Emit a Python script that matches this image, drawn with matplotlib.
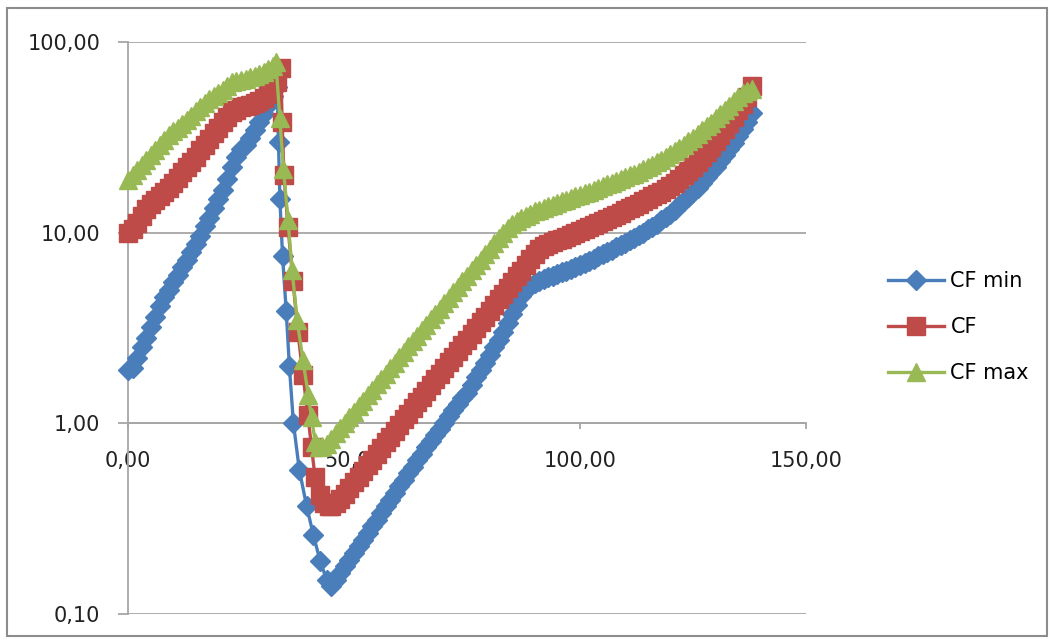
import matplotlib
matplotlib.use("Agg")
import matplotlib.pyplot as plt
from matplotlib.patches import Rectangle
from matplotlib.ticker import FixedLocator, FuncFormatter, NullLocator

# CF min
cf_min_x = list(range(0, 34)) + [33.3, 33.6, 34.2, 35.0, 35.7, 36.6, 37.9, 39.5, 41.0, 42.5, 44.0] + list(range(45, 139))
cf_min = [1.9, 1.95, 2.2, 2.5, 2.8, 3.2, 3.6, 4.1, 4.6, 5.0,
          5.5, 6.0, 6.6, 7.2, 7.9, 8.7, 9.6, 10.8, 12.0, 13.4,
          15.0, 16.8, 19.2, 22.0, 25.0, 27.5, 29.0, 31.5, 34.5, 38.0,
          42.0, 46.5, 52.0, 58.0,
          30.0, 15.0, 7.5, 3.9, 2.0, 1.0, 0.57, 0.37, 0.26, 0.19, 0.15,
          0.14, 0.151, 0.164, 0.178, 0.193, 0.209, 0.226, 0.245, 0.266, 0.288,
          0.313, 0.339, 0.367, 0.398, 0.432, 0.468, 0.506, 0.547, 0.592, 0.640,
          0.692, 0.748, 0.809, 0.871, 0.938, 1.01, 1.09, 1.17, 1.26, 1.35,
          1.45, 1.58, 1.74, 1.91, 2.08, 2.28, 2.50, 2.74, 3.00, 3.35,
          3.74, 4.17, 4.66, 5.01, 5.27, 5.47, 5.58, 5.70, 5.82, 5.94,
          6.07, 6.19, 6.32, 6.47, 6.62, 6.78, 6.95, 7.13, 7.31, 7.50,
          7.71, 7.93, 8.15, 8.38, 8.61, 8.85, 9.12, 9.40, 9.70, 10.0,
          10.4, 10.7, 11.1, 11.6, 12.1, 12.6, 13.2, 13.9, 14.6, 15.4,
          16.3, 17.2, 18.3, 19.5, 20.7, 22.2, 23.8, 25.5, 27.5, 29.6,
          32.1, 34.8, 38.0, 42.2]

# CF
cf_x = list(range(0, 34)) + [33.8, 34.1, 34.5, 35.4, 36.5, 37.6, 38.7, 39.8, 40.6, 41.4, 42.4, 43.4, 44.4] + list(range(45, 139))
cf = [10.0, 10.4, 11.3, 12.2, 13.3, 14.2, 14.8, 15.5, 16.3, 17.2,
      18.2, 19.4, 20.7, 22.0, 23.4, 25.0, 27.0, 29.0, 31.0, 33.3,
      35.5, 38.0, 40.5, 42.7, 44.2, 45.5, 46.3, 47.0, 48.0, 49.0,
      51.0, 53.5, 56.0, 62.0,
      73.0, 38.0, 20.0, 10.7, 5.6, 3.0, 1.8, 1.1, 0.75, 0.52, 0.42, 0.38, 0.37,
      0.37, 0.38, 0.40, 0.427, 0.457, 0.490, 0.525, 0.562, 0.603, 0.646,
      0.692, 0.741, 0.794, 0.851, 0.912, 0.977, 1.05, 1.12, 1.20, 1.29,
      1.38, 1.48, 1.58, 1.70, 1.82, 1.95, 2.09, 2.24, 2.40, 2.57,
      2.75, 2.95, 3.16, 3.39, 3.63, 3.89, 4.17, 4.47, 4.79, 5.13,
      5.50, 5.89, 6.31, 6.76, 7.24, 7.76, 8.22, 8.47, 8.69, 8.89,
      9.10, 9.31, 9.53, 9.75, 9.98, 10.2, 10.5, 10.7, 11.0, 11.2,
      11.5, 11.8, 12.1, 12.4, 12.7, 13.1, 13.4, 13.8, 14.2, 14.6,
      15.0, 15.5, 16.0, 16.4, 17.0, 17.6, 18.3, 19.1, 20.0, 21.0,
      22.1, 23.4, 24.9, 26.5, 28.3, 30.3, 32.4, 34.8, 37.5, 40.5,
      43.8, 47.4, 51.5, 59.0]

# CF max
cf_max_x = list(range(0, 32)) + [32.0, 32.7, 33.6, 34.4, 35.4, 36.3, 37.4, 38.7, 39.9, 40.6, 41.4, 42.3] + list(range(43, 139))
cf_max = [19.0, 20.0, 21.3, 22.6, 24.0, 25.7, 27.3, 29.0, 30.7, 32.4,
          34.0, 35.5, 37.2, 39.0, 41.0, 43.3, 45.7, 48.0, 50.1, 52.1,
          54.0, 56.2, 59.0, 61.5, 62.5, 63.0, 64.0, 65.5, 66.5, 68.0,
          69.5, 72.0,
          75.0, 79.0, 40.0, 21.5, 11.6, 6.4, 3.5, 2.15, 1.4, 1.08, 0.8, 0.75,
          0.76, 0.78, 0.828, 0.885, 0.944, 1.01, 1.08, 1.15, 1.23, 1.31,
          1.40, 1.50, 1.60, 1.71, 1.82, 1.95, 2.08, 2.22, 2.37, 2.53,
          2.70, 2.88, 3.08, 3.29, 3.51, 3.75, 4.00, 4.28, 4.56, 4.88,
          5.20, 5.56, 5.93, 6.34, 6.76, 7.23, 7.71, 8.24, 8.79, 9.40,
          10.0, 10.6, 11.1, 11.5, 11.9, 12.3, 12.6, 13.0, 13.2, 13.5,
          13.8, 14.0, 14.3, 14.6, 14.9, 15.2, 15.5, 15.8, 16.1, 16.4,
          16.8, 17.1, 17.5, 17.9, 18.2, 18.6, 19.1, 19.5, 20.0, 20.4,
          20.9, 21.5, 22.1, 22.7, 23.4, 24.1, 24.9, 25.8, 26.7, 27.8,
          28.9, 30.1, 31.5, 32.9, 34.4, 36.1, 37.8, 39.7, 41.8, 44.0,
          46.3, 48.9, 51.5, 54.3, 55.5, 56.5]

x_ticks = [0, 50, 100, 150]
y_ticks = [0.1, 1, 10, 100]

for xs, ys in [(cf_min_x, cf_min), (cf_x, cf), (cf_max_x, cf_max)]:
    assert len(xs) == len(ys), (len(xs), len(ys))

grey = "#a6a6a6"
plt.rcParams["font.family"] = "DejaVu Sans"

fig = plt.figure(figsize=(10.5, 6.4), dpi=100)
ax = fig.add_axes([128 / 1050, 1 - 614 / 640, 678 / 1050, 572 / 640])

# chart border like the Excel chart area
fig.patches.append(Rectangle((7 / 1050, 1 - 636 / 640), 1040 / 1050, 628 / 640,
                             transform=fig.transFigure, fill=False,
                             edgecolor="#8c8c8c", lw=1.5))

ax.plot(cf_min_x, cf_min, color="#4a7ebb", lw=2.4, marker="D", ms=10.5,
        mec="#4a7ebb", label="CF min", clip_on=False, zorder=3)
ax.plot(cf_x, cf, color="#be4b48", lw=2.4, marker="s", ms=12.5,
        mec="#be4b48", label="CF", clip_on=False, zorder=4)
ax.plot(cf_max_x, cf_max, color="#98b954", lw=2.4, marker="^", ms=13,
        mec="#98b954", label="CF max", clip_on=False, zorder=5)

ax.set_yscale("log")
ax.set_ylim(0.1, 100)
ax.set_xlim(0, 150)

ax.yaxis.set_major_locator(FixedLocator(y_ticks))
ax.yaxis.set_minor_locator(NullLocator())
ax.xaxis.set_major_locator(FixedLocator(x_ticks))
fmt = FuncFormatter(lambda v, p: f"{v:.2f}".replace(".", ","))
ax.yaxis.set_major_formatter(fmt)
ax.xaxis.set_major_formatter(fmt)

ax.yaxis.grid(True, color=grey, lw=1.3)
ax.set_axisbelow(True)

for s in ["top", "right"]:
    ax.spines[s].set_visible(False)
ax.spines["bottom"].set_position(("data", 1))
ax.spines["bottom"].set_color(grey)
ax.spines["bottom"].set_linewidth(1.3)
ax.spines["left"].set_color(grey)
ax.spines["left"].set_linewidth(1.3)

ax.tick_params(axis="y", direction="out", length=7, width=1.3, color=grey,
               labelsize=15, pad=13, labelcolor="#222222")
ax.tick_params(axis="x", direction="out", length=4, width=1.3, color=grey,
               labelsize=15, pad=16, labelcolor="#222222")

ax.legend(loc="center left", bbox_to_anchor=(888 / 1050, 1 - 327 / 640),
          bbox_transform=fig.transFigure, frameon=False, fontsize=15,
          handlelength=2.7, handletextpad=0.3, labelspacing=1.25,
          borderpad=0, borderaxespad=0, numpoints=1)

fig.savefig("out.png", dpi=100)
